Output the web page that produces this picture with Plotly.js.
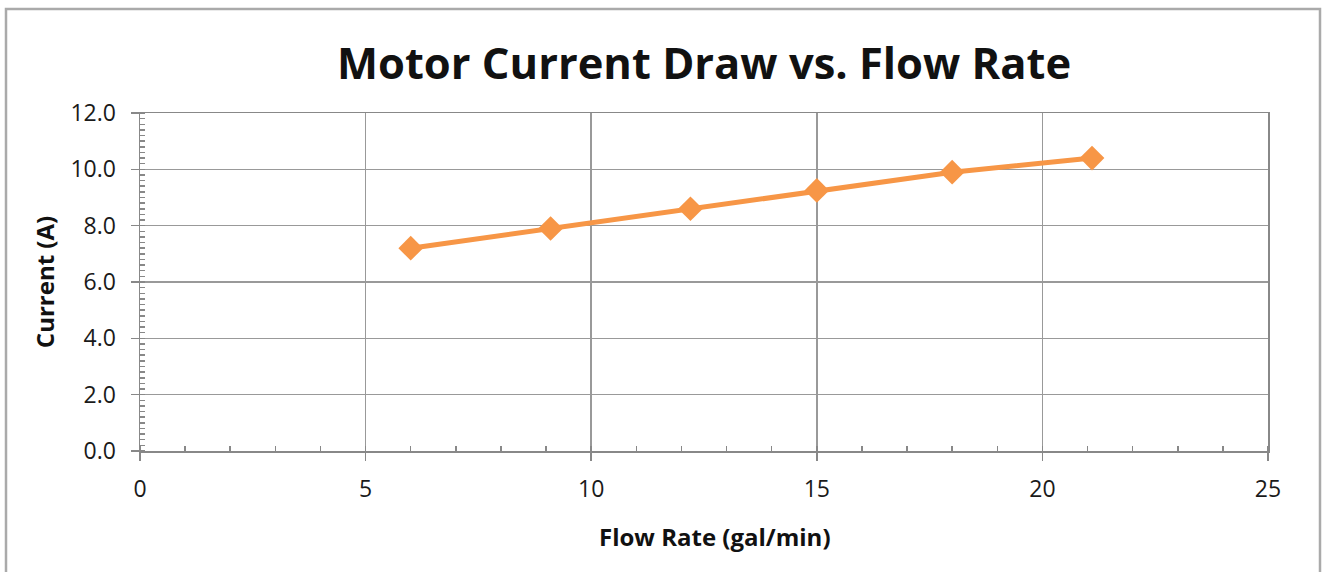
<!DOCTYPE html>
<html>
<head>
<meta charset="utf-8">
<script src="https://cdn.plot.ly/plotly-3.0.1.min.js"></script>
<style>html,body{margin:0;padding:0;background:#fff;}#chart{width:1326px;height:572px;}</style>
</head>
<body>
<div id="chart"></div>
<script>
const flowRate = [6.0, 9.1, 12.2, 15.0, 18.0, 21.1];
const current = [7.2, 7.9, 8.6, 9.25, 9.9, 10.4];
const xTickVals = [0, 5, 10, 15, 20, 25];
const xTickText = ['0', '5', '10', '15', '20', '25'];
const yTickVals = [0, 2, 4, 6, 8, 10, 12];
const yTickText = ['0.0', '2.0', '4.0', '6.0', '8.0', '10.0', '12.0'];

const L = 140, R = 1268, T = 113, B = 451, W = 1326, H = 572;
const px = v => (v - L) / (R - L);
const py = v => (B - v) / (B - T);

const trace = {
  x: flowRate, y: current, type: 'scatter', mode: 'lines+markers',
  line: {color: '#F79646', width: 5},
  marker: {symbol: 'diamond', size: 19, color: '#F79646'},
  showlegend: false, cliponaxis: false
};

const fontFam = '"Open Sans", "Liberation Sans", sans-serif';
const layout = {
  width: W, height: H,
  margin: {l: L, r: W - R, t: T, b: H - B},
  paper_bgcolor: '#fff', plot_bgcolor: '#fff',
  font: {family: fontFam, color: '#222'},
  title: {text: '<b>Motor Current Draw vs. Flow Rate</b>', font: {size: 43.5, family: fontFam, color: '#111'},
          x: 0.531, xanchor: 'center', y: 0.888, yanchor: 'middle'},
  xaxis: {
    range: [0, 25], tickvals: xTickVals, ticktext: xTickText,
    showgrid: true, gridcolor: '#999', gridwidth: 1.5,
    showline: true, linecolor: '#888', linewidth: 1.5, mirror: true,
    ticks: 'outside', ticklen: 8, tickcolor: '#888', tickwidth: 1.5,
    ticklabelstandoff: 9,
    tickfont: {size: 23, color: '#1a1a1a'}, zeroline: false,
    minor: {dtick: 1, ticks: 'inside', ticklen: 5, tickcolor: '#888', showgrid: false}
  },
  yaxis: {
    range: [0, 12], tickvals: yTickVals, ticktext: yTickText,
    showgrid: true, gridcolor: '#999', gridwidth: 1.5,
    showline: true, linecolor: '#888', linewidth: 1.5, mirror: true,
    ticks: 'outside', ticklen: 8, tickcolor: '#888', tickwidth: 1.5,
    ticklabelstandoff: 10,
    tickfont: {size: 23, color: '#1a1a1a'}, zeroline: false,
    minor: {dtick: 0.2, ticks: 'inside', ticklen: 5, tickcolor: '#888', showgrid: false},
    title: {text: '<b>Current (A)</b>', font: {size: 24, color: '#111'}, standoff: 9}
  },
  annotations: [{
    text: '<b>Flow Rate (gal/min)</b>', xref: 'paper', yref: 'paper',
    x: px(715), y: py(536), xanchor: 'center', yanchor: 'middle', showarrow: false,
    font: {size: 24, color: '#111', family: fontFam}
  }],
  shapes: [{
    type: 'rect', xref: 'paper', yref: 'paper',
    x0: px(6), x1: px(1320), y0: py(580), y1: py(9),
    line: {color: '#aaa', width: 2.5}, fillcolor: 'rgba(0,0,0,0)', layer: 'below'
  }]
};

Plotly.newPlot('chart', [trace], layout, {displayModeBar: false, staticPlot: true});
</script>
</body>
</html>
